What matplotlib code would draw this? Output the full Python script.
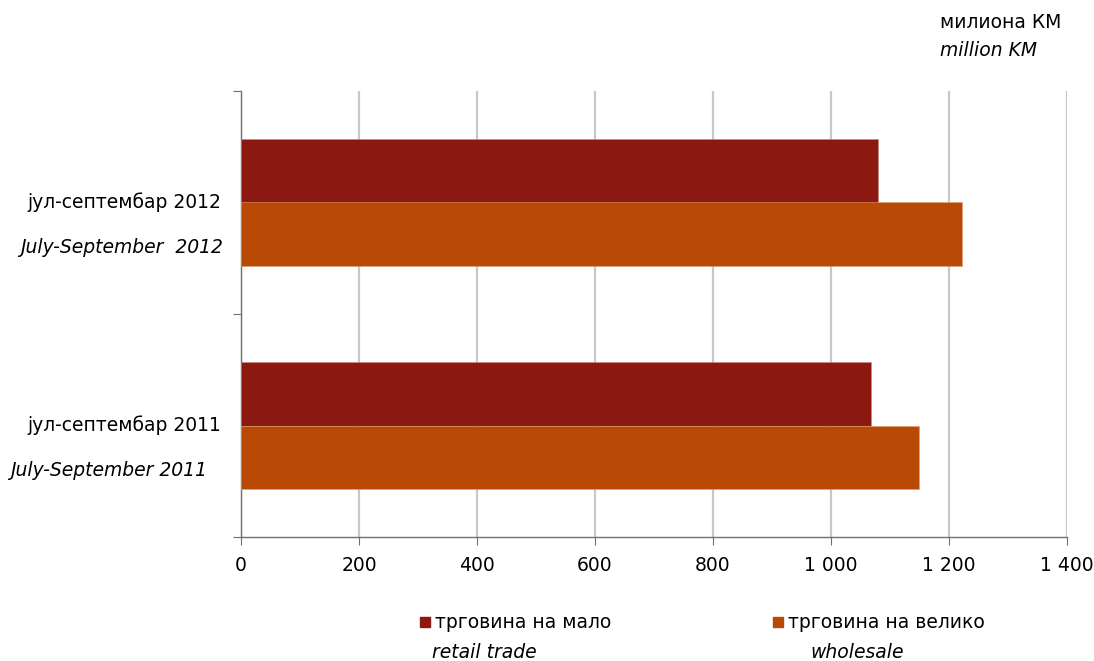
import matplotlib
matplotlib.use("Agg")
import matplotlib.pyplot as plt
import matplotlib.transforms as mtransforms
from matplotlib.patches import Rectangle

plt.rcParams['font.family'] = ['DejaVu Sans']

# data
periods_sr = ['јул-септембар 2011', 'јул-септембар 2012']
periods_en = ['July-September 2011', 'July-September  2012']
en_centers = [109, 122]
retail = [1068, 1080]
wholesale = [1149, 1222]
xticks = [0, 200, 400, 600, 800, 1000, 1200, 1400]
xticklabels = ['0', '200', '400', '600', '800', '1 000', '1 200', '1 400']

c_retail = '#8C1812'
c_whole = '#B84A06'
fs = 13.5

W, H = 1094, 661
fig = plt.figure(figsize=(W / 100, H / 100), dpi=100)
ax = fig.add_axes([241 / W, 1 - 537 / H, 826 / W, 446 / H])

bh = 0.285
ypos = range(len(periods_sr))
ax.barh([y + bh / 2 for y in ypos], retail, height=bh, color=c_retail,
        edgecolor='#C98A80', linewidth=0.4, zorder=3)
ax.barh([y - bh / 2 for y in ypos], wholesale, height=bh, color=c_whole,
        edgecolor='#E0A070', linewidth=0.4, zorder=3)

ax.set_xlim(0, 1400)
ax.set_ylim(-0.5, 1.5)
ax.set_xticks(xticks)
ax.set_xticklabels(xticklabels, fontsize=fs)
ax.set_yticks([-0.5, 0.5, 1.5])
ax.set_yticklabels([])
ax.xaxis.grid(True, color='#C8C8C8', linewidth=1.6, zorder=0)
ax.set_axisbelow(True)
for s in ['top', 'right']:
    ax.spines[s].set_visible(False)
for s in ['left', 'bottom']:
    ax.spines[s].set_color('#707070')
    ax.spines[s].set_linewidth(1.0)
ax.tick_params(axis='x', direction='out', length=6, color='#707070', pad=8)
ax.tick_params(axis='y', direction='out', length=6, color='#707070')

# category labels
trans = mtransforms.blended_transform_factory(fig.transFigure, ax.transData)
for y, sr, en, xc in zip(ypos, periods_sr, periods_en, en_centers):
    ax.text(124 / W, y, sr, transform=trans, ha='center', va='center', fontsize=fs)
    ax.text(xc / W, y - 0.2, en, transform=trans, ha='center', va='center',
            fontsize=fs, style='italic')

# unit label
fig.text(940 / W, 1 - 22 / H, 'милиона КМ', fontsize=fs, va='center', ha='left')
fig.text(940 / W, 1 - 50 / H, 'million KM', fontsize=fs, va='center', ha='left',
         style='italic')

# legend
legend_items = [(420, 'трговина на мало', 432, 'retail trade', c_retail),
                (773, 'трговина на велико', 810, 'wholesale', c_whole)]
for x0, lab_sr, xe, lab_en, col in legend_items:
    fig.patches.append(Rectangle((x0 / W, 1 - 627 / H), 10 / W, 10 / H,
                                 transform=fig.transFigure, color=col))
    fig.text((x0 + 15) / W, 1 - 622 / H, lab_sr, fontsize=fs, va='center', ha='left')
    fig.text(xe / W, 1 - 652 / H, lab_en, fontsize=fs, va='center', ha='left',
             style='italic')

fig.savefig('out.png', dpi=100)
